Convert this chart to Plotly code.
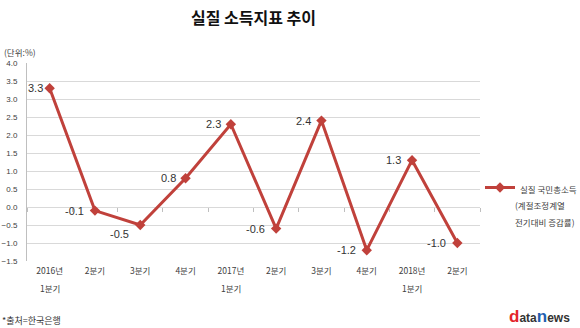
import plotly.graph_objects as go

# Quarterly real gross national income growth (seasonally adjusted, q/q %)
tick_top = ["2016년", "2분기", "3분기", "4분기", "2017년", "2분기", "3분기", "4분기", "2018년", "2분기"]
tick_bottom = ["1분기", "", "", "", "1분기", "", "", "", "1분기", ""]
values = [3.3, -0.1, -0.5, 0.8, 2.3, -0.6, 2.4, -1.2, 1.3, -1.0]
y_ticks = [4.0, 3.5, 3.0, 2.5, 2.0, 1.5, 1.0, 0.5, 0.0, -0.5, -1.0, -1.5]

series_name = "실질 국민총소득"
series_note = ["(계절조정계열", "전기대비 증감률)"]

LINE = "#C0413B"
GRID = "#D9D9D9"
TEXT = "#404040"
KFONT = "Noto Sans CJK KR"

W, H = 580, 328
ML, MR, MT, MB = 27, 100, 63, 67
PLOT_H = H - MT - MB

x_idx = list(range(len(values)))
y_min, y_max = -1.5, 4.0


def py(px):
    """paper y-fraction for a pixel row measured from the top of the page"""
    return 1 - (px - MT) / PLOT_H


fig = go.Figure()
fig.add_trace(go.Scatter(
    x=x_idx, y=values, mode="lines+markers", name=series_name,
    line=dict(color=LINE, width=3),
    marker=dict(symbol="diamond", size=8, color=LINE),
    hoverinfo="skip",
))
# invisible companion trace so the zero-crossing tick axis is rendered
fig.add_trace(go.Scatter(
    x=x_idx, y=values, xaxis="x2", mode="markers",
    marker=dict(opacity=0), showlegend=False, hoverinfo="skip",
))

# value labels beside each point: (xshift, yshift)
label_offsets = [(-5, 0), (-9, 0), (-9, -9), (-8, 0), (-8, 0),
                 (-9, 0), (-8, 0), (-9, 0), (-9, 0), (-9, 0)]
annotations = []
for i, (v, (dx, dy)) in enumerate(zip(values, label_offsets)):
    annotations.append(dict(
        x=i, y=v, xref="x", yref="y", text=f"{v:.1f}", showarrow=False,
        xanchor="right", yanchor="middle", xshift=dx, yshift=dy,
        font=dict(family="Liberation Sans, Arial", size=11, color="#333333"),
    ))

# second line of the category labels
for i, t in enumerate(tick_bottom):
    if t:
        annotations.append(dict(
            x=i, y=py(288), xref="x", yref="paper", text=t, showarrow=False,
            xanchor="center", yanchor="middle",
            font=dict(family=KFONT, size=8.5, color=TEXT),
        ))

# legend continuation lines
for j, t in enumerate(series_note):
    annotations.append(dict(
        x=1.0, y=py(205 + 17 * j), xref="paper", yref="paper", text=t, showarrow=False,
        xanchor="left", yanchor="middle", xshift=33,
        font=dict(family=KFONT, size=8.5, color=TEXT),
    ))

annotations += [
    dict(x=0, y=py(52), xref="paper", yref="paper", text="(단위:%)", showarrow=False,
         xanchor="left", yanchor="middle", xshift=-25,
         font=dict(family=KFONT, size=8.5, color=TEXT)),
    dict(x=0, y=py(320), xref="paper", yref="paper", text="*출처=한국은행", showarrow=False,
         xanchor="left", yanchor="middle", xshift=-27,
         font=dict(family=KFONT, size=9, color="#333333")),
    dict(x=1, y=py(316), xref="paper", yref="paper",
         text=("<b><span style='color:#E3242B'>d</span>"
               "<span style='color:#333333;font-size:12px'>ata</span>"
               "<span style='color:#1F5FB0'>n</span>"
               "<span style='color:#333333;font-size:12px'>ews</span></b>"),
         showarrow=False, xanchor="right", yanchor="middle", xshift=92,
         font=dict(family="Liberation Sans, Arial", size=17, color="#333333")),
]

fig.update_layout(
    width=W, height=H,
    margin=dict(l=ML, r=MR, t=MT, b=MB, autoexpand=False),
    paper_bgcolor="white", plot_bgcolor="white",
    title=dict(text="<b>실질 소득지표 추이</b>", x=0.5, xref="paper", xanchor="center",
               y=1 - 18 / H, yanchor="middle",
               font=dict(family=KFONT, size=16, color="#111111")),
    xaxis=dict(
        range=[-0.5, len(values) - 0.5], tickvals=x_idx, ticktext=tick_top,
        ticks="", showgrid=False, zeroline=False, showline=False, automargin=False,
        tickfont=dict(family=KFONT, size=8.5, color=TEXT), ticklabelstandoff=3,
        fixedrange=True,
    ),
    xaxis2=dict(
        overlaying="x", matches="x", anchor="free", automargin=False,
        position=(0 - y_min) / (y_max - y_min),
        tickvals=[i - 0.5 for i in range(len(values) + 1)],
        ticks="outside", ticklen=4, tickcolor="#BFBFBF", tickwidth=1,
        showticklabels=False, showgrid=False, zeroline=False, showline=False,
    ),
    yaxis=dict(
        range=[y_min, y_max], tickvals=y_ticks, tickformat=".1f", automargin=False,
        showgrid=True, gridcolor=GRID, gridwidth=1, zeroline=False,
        showline=True, linecolor="#BFBFBF", linewidth=1,
        ticks="", ticklabelstandoff=7,
        tickfont=dict(family="Liberation Sans, Arial", size=8, color=TEXT),
        fixedrange=True,
    ),
    legend=dict(
        x=1.0, y=py(190), xanchor="left", yanchor="middle", xref="paper", yref="paper",
        itemwidth=30, valign="top", bgcolor="rgba(0,0,0,0)",
        font=dict(family=KFONT, size=8.5, color=TEXT),
    ),
    showlegend=True,
    annotations=annotations,
)

fig.write_html("out.html")
